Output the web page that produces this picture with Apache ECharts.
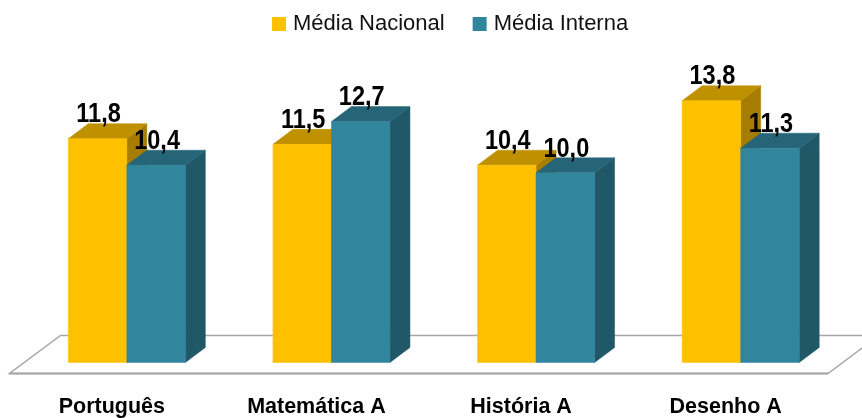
<!DOCTYPE html>
<html>
<head>
<meta charset="utf-8">
<style>
  html, body { margin: 0; padding: 0; background: #fff; }
  #chart { width: 862px; height: 418px; }
</style>
<script src="https://cdn.jsdelivr.net/npm/echarts@6/dist/echarts.min.js"></script>
</head>
<body>
<div id="chart"></div>
<script>
const categories = ['Português', 'Matemática A', 'História A', 'Desenho A'];
const mediaNacional = [11.8, 11.5, 10.4, 13.8];
const mediaInterna = [10.4, 12.7, 10.0, 11.3];

const DEPTH_X = 20;
const DEPTH_Y = 15;
const BAR_RATIO = 0.286;   // largura de cada barra dentro da categoria
const SHIFT_X = 15;        // as barras ficam deslocadas em relação ao rótulo do eixo

const chart = echarts.init(document.getElementById('chart'));

function poly(points, fill) {
  return { type: 'polygon', shape: { points }, style: { fill, stroke: fill, lineWidth: 0.5 } };
}

// barra 3D: frente, topo e lado
function bar3d(colors, side) {
  return function (params, api) {
    const base = api.coord([api.value(0), 0]);
    const top = api.coord([api.value(0), api.value(1)]);
    const w = api.size([1, 0])[0] * BAR_RATIO;
    const x0 = base[0] + SHIFT_X + (side === 0 ? -w : 0);
    const x1 = x0 + w;
    const dx = DEPTH_X, dy = DEPTH_Y;
    return {
      type: 'group',
      children: [
        poly([[x1, top[1]], [x1 + dx, top[1] - dy], [x1 + dx, base[1] - dy], [x1, base[1]]], colors.side),
        poly([[x0, top[1]], [x0 + dx, top[1] - dy], [x1 + dx, top[1] - dy], [x1, top[1]]], colors.top),
        poly([[x0, top[1]], [x1, top[1]], [x1, base[1]], [x0, base[1]]], colors.front),
        {
          type: 'text',
          z2: 10,
          x: (x0 + x1) / 2 + 1,
          y: top[1] - 24,
          scaleX: 0.84,
          style: {
            text: api.value(1).toFixed(1).replace('.', ','),
            x: 0,
            y: 0,
            align: 'center',
            verticalAlign: 'middle',
            font: 'bold 28px "Liberation Sans"',
            fill: '#000'
          }
        }
      ]
    };
  };
}

// chão do gráfico
function renderFloor(params, api) {
  const cs = params.coordSys;
  const bottom = api.coord([0, 0])[1];
  const xl = cs.x, xr = cs.x + cs.width;
  const yFront = bottom + 11, yBack = bottom - 27;
  const dx = 51;
  return {
    type: 'group',
    children: [
      {
        type: 'polygon',
        shape: { points: [[xl, yFront], [xr, yFront], [xr + dx, yBack], [xl + dx, yBack]] },
        style: { fill: '#fff', stroke: '#a6a6a6', lineWidth: 1.5 }
      },
      {
        type: 'line',
        shape: { x1: xl, y1: yFront, x2: xr, y2: yFront },
        style: { stroke: '#a6a6a6', lineWidth: 2.2 }
      }
    ]
  };
}

const option = {
  animation: false,
  backgroundColor: '#fff',
  legend: {
    data: ['Média Nacional', 'Média Interna'],
    left: 267,
    top: 8,
    icon: 'rect',
    itemWidth: 14,
    itemHeight: 14,
    itemGap: 28,
    textStyle: {
      fontFamily: 'Liberation Sans',
      fontSize: 22,
      color: '#111',
      padding: [0, 0, 0, 2]
    }
  },
  grid: {
    left: 9.5,
    top: 59,
    width: 818.5,
    height: 303.5,
    outerBoundsMode: 'none'
  },
  xAxis: {
    type: 'category',
    data: categories,
    axisLine: { show: false },
    axisTick: { show: false },
    axisLabel: {
      margin: 34,
      fontFamily: 'Liberation Sans',
      fontWeight: 'bold',
      fontSize: 21.5,
      color: '#000'
    }
  },
  yAxis: {
    type: 'value',
    min: 0,
    max: 16,
    show: false
  },
  series: [
    {
      type: 'custom',
      silent: true,
      z: 1,
      clip: false,
      data: [0],
      renderItem: renderFloor
    },
    {
      name: 'Média Nacional',
      type: 'custom',
      z: 2,
      clip: false,
      itemStyle: { color: '#FFC000' },
      data: mediaNacional.map((v, i) => [i, v]),
      encode: { x: 0, y: 1 },
      renderItem: bar3d({ front: '#FFC000', top: '#BF9000', side: '#A67D00' }, 0)
    },
    {
      name: 'Média Interna',
      type: 'custom',
      z: 3,
      clip: false,
      itemStyle: { color: '#31859C' },
      data: mediaInterna.map((v, i) => [i, v]),
      encode: { x: 0, y: 1 },
      renderItem: bar3d({ front: '#31859C', top: '#266577', side: '#205867' }, 1)
    }
  ]
};

chart.setOption(option);
</script>
</body>
</html>
